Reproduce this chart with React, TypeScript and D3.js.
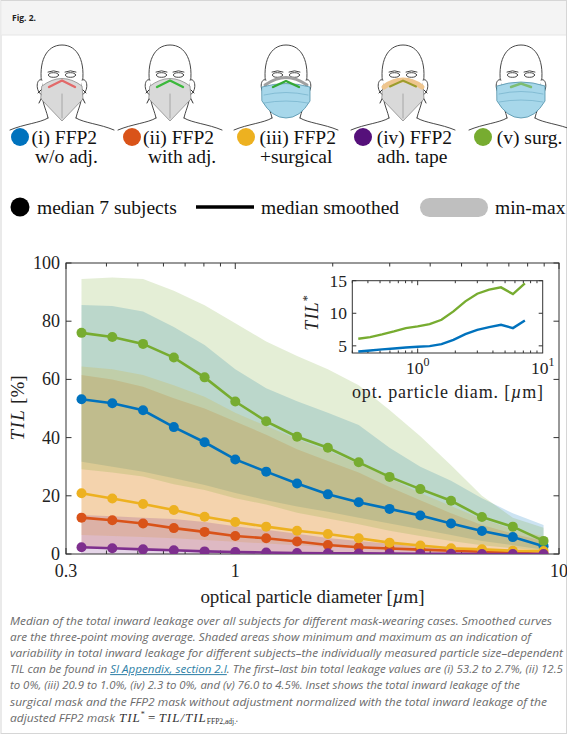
import React from 'react';
import * as d3 from 'd3';

// ---------- data ----------
const binCenters = [0.335, 0.417, 0.519, 0.646, 0.804, 1.0, 1.246, 1.552, 1.932, 2.406, 2.996, 3.73, 4.64, 5.78, 7.2, 8.96];

const medBlue = [53.2, 51.8, 49.4, 43.6, 38.4, 32.5, 28.3, 24.2, 20.5, 17.8, 15.5, 13.2, 10.5, 7.9, 5.8, 2.7];
const medOrange = [12.5, 11.6, 10.5, 8.9, 7.6, 6.2, 5.4, 4.3, 3.1, 2.3, 1.9, 1.5, 1.1, 0.8, 0.5, 0.0];
const medYellow = [20.9, 19.1, 17.2, 15.1, 12.8, 11.0, 9.4, 8.0, 6.9, 5.4, 3.9, 2.9, 2.0, 1.6, 1.1, 1.0];
const medPurple = [2.3, 2.0, 1.6, 1.3, 0.9, 0.7, 0.5, 0.35, 0.25, 0.2, 0.15, 0.1, 0.05, 0.0, 0.0, 0.0];
const medGreen = [76.0, 74.6, 72.2, 67.5, 60.7, 52.4, 45.6, 40.3, 36.5, 31.5, 26.5, 22.3, 18.3, 12.7, 9.4, 4.5];

const maxBlue = [85.6, 85.2, 83.3, 78.0, 71.8, 63.5, 57.0, 52.5, 48.5, 44.3, 36.5, 30.0, 25.2, 19.2, 14.0, 10.0];
const minBlue = [31.7, 30.0, 28.3, 26.0, 23.7, 21.0, 18.5, 16.3, 14.5, 12.5, 10.5, 8.5, 6.5, 4.5, 3.0, 1.5];
const maxOrange = [61.5, 60.0, 57.5, 53.5, 50.0, 45.5, 41.0, 36.0, 32.0, 28.0, 23.0, 18.5, 14.0, 10.0, 7.0, 4.5];
const minOrange = [2.0, 1.9, 1.7, 1.5, 1.2, 1.0, 0.8, 0.6, 0.4, 0.3, 0.2, 0.1, 0.0, 0.0, 0.0, 0.0];
const maxYellow = [64.4, 63.5, 61.5, 58.0, 54.0, 48.5, 44.0, 39.5, 35.5, 31.0, 26.0, 21.0, 16.5, 12.0, 8.5, 6.0];
const minYellow = [6.5, 6.2, 5.8, 5.4, 4.8, 4.2, 3.6, 3.0, 2.4, 1.9, 1.5, 1.1, 0.8, 0.6, 0.5, 0.4];
const maxPurple = [13.4, 13.0, 12.5, 12.0, 11.0, 9.5, 8.3, 7.0, 5.5, 4.5, 3.5, 2.5, 1.8, 1.2, 0.8, 0.6];
const minPurple = [0, 0, 0, 0, 0, 0, 0, 0, 0, 0, 0, 0, 0, 0, 0, 0];
const maxGreen = [94.5, 95.0, 94.5, 90.5, 85.5, 79.3, 73.0, 68.0, 63.5, 58.0, 49.5, 40.5, 30.5, 20.0, 12.5, 9.0];
const minGreen = [29.1, 28.0, 26.6, 24.0, 22.0, 19.2, 17.0, 14.2, 12.2, 10.2, 8.0, 6.2, 4.5, 3.0, 2.0, 1.2];

// inset: TIL* (first 15 bins)
const insetGreen = [6.08, 6.34, 6.75, 7.21, 7.72, 7.98, 8.34, 9.0, 10.29, 11.83, 13.0, 13.62, 13.98, 12.95, 14.6];
const insetBlue = [4.14, 4.29, 4.45, 4.6, 4.75, 4.85, 4.95, 5.26, 5.92, 6.8, 7.46, 7.88, 8.23, 7.72, 8.9];

const yTicks = [0, 20, 40, 60, 80, 100];
const xTickLabels = [
  { v: 0.3, t: '0.3' },
  { v: 1, t: '1' },
  { v: 10, t: '10' },
];
const xMinorTicks = [0.4, 0.5, 0.6, 0.7, 0.8, 0.9, 2, 3, 4, 5, 6, 7, 8, 9];
const insetYTicks = [5, 10, 15];

const caseLabels = [
  { l1: '(i) FFP2', l2: 'w/o adj.' },
  { l1: '(ii) FFP2', l2: 'with adj.' },
  { l1: '(iii) FFP2', l2: '+surgical' },
  { l1: '(iv) FFP2', l2: 'adh. tape' },
  { l1: '(v) surg.', l2: '' },
];

// ---------- styles ----------
const C = {
  blue: '#0072BD',
  orange: '#D95319',
  yellow: '#EDB120',
  purple: '#7E2F8E',
  green: '#77AC30',
};
const legendColors = ['#0072BD', '#D95319', '#EDB120', '#55107A', '#77AC30'];
const serif = '"Liberation Serif", "Times New Roman", serif';
const sans = '"Open Sans", "Noto Sans", sans-serif';

const series = [
  { color: C.blue, med: medBlue, lo: minBlue, hi: maxBlue },
  { color: C.orange, med: medOrange, lo: minOrange, hi: maxOrange },
  { color: C.yellow, med: medYellow, lo: minYellow, hi: maxYellow },
  { color: C.purple, med: medPurple, lo: minPurple, hi: maxPurple },
  { color: C.green, med: medGreen, lo: minGreen, hi: maxGreen },
];

// ---------- faces ----------
function Face({ cx, kind }: { cx: number; kind: number }) {
  const line = '#333';
  const head = 'M -20,86 C -24,62 -16,45 0,45 C 16,45 24,62 20,86';
  const ffp2 = 'M -20,86 Q -10,78.5 0,78.5 Q 10,78.5 20,86 L 21,99 L 0,121 L -21,99 Z';
  const surg = 'M -24,86 Q 0,78 24,86 L 24,101 Q 14,118 0,118 Q -14,118 -24,101 Z';
  return (
    <g transform={`translate(${cx},0)`} fill="none" stroke={line} strokeWidth={0.9} strokeLinecap="round">
      <path d="M -14,118 C -22,123 -38,124 -52,130" />
      <path d="M 14,118 C 22,123 38,124 52,130" />
      <path d="M -20,95 C -19,105 -15,112 -14,118" />
      <path d="M 20,95 C 19,105 15,112 14,118" />
      <path d={head} fill="#fff" />
      <path d="M -20,80 C -26,77 -27,92 -20,95" fill="#fff" />
      <path d="M 20,80 C 26,77 27,92 20,95" fill="#fff" />
      <ellipse cx={-8.5} cy={75} rx={5} ry={2.3} fill="#fff" />
      <ellipse cx={8.5} cy={75} rx={5} ry={2.3} fill="#fff" />
      <path d="M -14,72 Q -8.5,69.5 -3,72" />
      <path d="M 3,72 Q 8.5,69.5 14,72" />
      {(kind === 0 || kind === 1 || kind === 3) && (
        <g>
          <path d={ffp2} fill="#d9d9d9" stroke="#8a8a8a" strokeWidth={0.8} />
          <path d="M 0,94 L 0,118" stroke="#9a9a9a" strokeWidth={0.8} />
          <path d="M -21,90 L -24,93 M 21,90 L 24,93 M -21,99 L -23,103 M 21,99 L 23,103" stroke="#333" strokeWidth={1} />
        </g>
      )}
      {kind === 0 && <path d="M -13,87 L 0,80.5 L 13,87" stroke="#e26a6a" strokeWidth={2.4} />}
      {kind === 1 && <path d="M -13,87 L 0,80.5 L 13,87" stroke="#3cb83c" strokeWidth={2.4} />}
      {kind === 3 && (
        <g>
          <path d="M -19,87 Q -10,80 0,80 Q 10,80 19,87" stroke="#eec58e" strokeWidth={5} />
          <path d="M -13,86.5 L 0,80.5 L 13,86.5" stroke="#9c9c2c" strokeWidth={2} />
        </g>
      )}
      {kind === 2 && (
        <g>
          <path d="M -21,85 Q -10,77.5 0,77.5 Q 10,77.5 21,85" stroke="#a0a0a0" strokeWidth={3} />
          <path d="M -24,87 Q 0,80 24,87 L 24,101 Q 14,118 0,118 Q -14,118 -24,101 Z" fill="#a7d7ea" stroke="#4f8fa8" strokeWidth={0.8} />
          <path d="M -22,95 Q 0,90 22,95" stroke="#6aaac4" strokeWidth={0.6} />
          <path d="M -22,103 Q 0,99 22,103" stroke="#6aaac4" strokeWidth={0.6} />
          <path d="M -13,87 L 0,81 L 13,87" stroke="#34a834" strokeWidth={2.4} />
        </g>
      )}
      {kind === 4 && (
        <g>
          <path d={surg} fill="#a7d7ea" stroke="#4f8fa8" strokeWidth={0.8} />
          <path d="M -22,94 Q 0,89 22,94" stroke="#6aaac4" strokeWidth={0.6} />
          <path d="M -22,102 Q 0,98 22,102" stroke="#6aaac4" strokeWidth={0.6} />
          <path d="M -10,87 L 0,83.5 L 10,87" stroke="#7dbd72" strokeWidth={2.4} />
        </g>
      )}
    </g>
  );
}

export default function App() {
  const L = 66, R = 559, T = 263, B = 554;
  const x = d3.scaleLog().domain([0.3, 10]).range([L, R]);
  const y = d3.scaleLinear().domain([0, 100]).range([B, T]);

  const iL = 352.3, iR = 542.7, iT = 280.7, iB = 353;
  const ix = d3.scaleLog().domain([0.3, 10]).range([iL, iR]);
  const iy = d3.scaleLinear().domain([3.9, 15]).range([iB, iT]);

  const area = d3
    .area<[number, number]>()
    .x((_d, i) => x(binCenters[i]))
    .y0((d) => y(d[0]))
    .y1((d) => y(d[1]));
  const line = d3
    .line<number>()
    .x((_d, i) => x(binCenters[i]))
    .y((d) => y(d));
  const iline = d3
    .line<number>()
    .x((_d, i) => ix(binCenters[i]))
    .y((d) => iy(d));

  const faceCx = [62, 170, 286, 403, 521];
  const circX = [20, 132, 246, 363, 483];
  const t1X = [31.5, 143, 259.5, 376.7, 496.7];
  const t2X = [35, 148, 260, 377, 0];

  const capLines = [
    'Median of the total inward leakage over all subjects for different mask-wearing cases. Smoothed curves',
    'are the three-point moving average. Shaded areas show minimum and maximum as an indication of',
    'variability in total inward leakage for different subjects–the individually measured particle size–dependent',
    '',
    'to 0%, (iii) 20.9 to 1.0%, (iv) 2.3 to 0%, and (v) 76.0 to 4.5%. Inset shows the total inward leakage of the',
    'surgical mask and the FFP2 mask without adjustment normalized with the total inward leakage of the',
  ];
  const capWidths = [542, 521, 553, 553, 510, 537];
  const capY0 = 624.5;
  const capStep = 16.2;
  const mathFont = { fontFamily: serif, fill: '#333' };

  return (
    <svg
      width={567}
      height={739}
      viewBox="0 0 567 739"
      style={{ position: 'absolute', left: 0, top: 0, background: '#fff' }}
    >
      <defs>
        <clipPath id="plotClip">
          <rect x={L} y={T} width={R - L} height={B - T} />
        </clipPath>
      </defs>
      {/* card */}
      <rect x={1} y={0.5} width={565.5} height={733} fill="#fff" stroke="#d6d6d6" strokeWidth={1} />
      <rect x={1.5} y={1} width={564.5} height={34} fill="#f4f4f4" />
      <line x1={1.5} x2={566} y1={35} y2={35} stroke="#e6e6e6" />
      <text x={12} y={21} fontFamily={sans} fontWeight={700} fontSize={8.5} fill="#222">
        Fig. 2.
      </text>

      {/* faces */}
      {faceCx.map((cx, i) => (
        <Face key={i} cx={cx} kind={i} />
      ))}

      {/* case legend */}
      {caseLabels.map((c, i) => (
        <g key={i} fontFamily={serif} fontSize={19.5} fill="#111">
          <circle cx={circX[i]} cy={137} r={9} fill={legendColors[i]} />
          <text x={t1X[i]} y={143.5}>{c.l1}</text>
          {c.l2 && <text x={t2X[i]} y={162.5}>{c.l2}</text>}
        </g>
      ))}

      {/* style legend */}
      <g fontFamily={serif} fontSize={19.5} fill="#111">
        <circle cx={20} cy={207} r={9.5} fill="#000" />
        <text x={37} y={213.5}>median 7 subjects</text>
        <line x1={196} x2={254} y1={207} y2={207} stroke="#000" strokeWidth={3.5} />
        <text x={261} y={213.5}>median smoothed</text>
        <rect x={420} y={198} width={68} height={19} rx={9.5} fill="#bfbfbf" />
        <text x={495} y={213.5}>min-max</text>
      </g>

      {/* bands */}
      <g clipPath="url(#plotClip)">
        {series.map((s, k) => (
          <path
            key={k}
            d={area(s.lo.map((v, i) => [v, s.hi[i]] as [number, number])) || ''}
            fill={s.color}
            fillOpacity={0.2}
            stroke="none"
          />
        ))}
      </g>

      {/* axes frame and ticks */}
      <rect x={L} y={T} width={R - L} height={B - T} fill="none" stroke="#333" strokeWidth={1} />
      {yTicks.map((v) => (
        <g key={v}>
          <line x1={L} x2={L + 5.5} y1={y(v)} y2={y(v)} stroke="#333" />
          <line x1={R} x2={R - 5.5} y1={y(v)} y2={y(v)} stroke="#333" />
          <text x={60} y={y(v) + 6} textAnchor="end" fontFamily={serif} fontSize={18} fill="#222">
            {v}
          </text>
        </g>
      ))}
      {xMinorTicks.map((v) => (
        <g key={v}>
          <line x1={x(v)} x2={x(v)} y1={B} y2={B - 3.5} stroke="#333" />
          <line x1={x(v)} x2={x(v)} y1={T} y2={T + 3.5} stroke="#333" />
        </g>
      ))}
      {xTickLabels.map((d) => (
        <g key={d.t}>
          <line x1={x(d.v)} x2={x(d.v)} y1={B} y2={B - 6} stroke="#333" />
          <line x1={x(d.v)} x2={x(d.v)} y1={T} y2={T + 6} stroke="#333" />
          <text x={x(d.v)} y={577} textAnchor="middle" fontFamily={serif} fontSize={18} fill="#222">
            {d.t}
          </text>
        </g>
      ))}
      <text x={(L + R) / 2} y={603} textAnchor="middle" fontFamily={serif} fontSize={19} fill="#222" textLength={224}>
        optical particle diameter [<tspan fontStyle="italic">µ</tspan>m]
      </text>
      <text
        transform="translate(24,408) rotate(-90)"
        textAnchor="middle"
        fontFamily={serif}
        fontSize={19}
        fill="#222"
      >
        <tspan fontStyle="italic" letterSpacing={1.5}>TIL</tspan> [%]
      </text>

      {/* medians */}
      <g clipPath="url(#plotClip)">
        {series.map((s, k) => (
          <g key={k}>
            <path d={line(s.med) || ''} fill="none" stroke={s.color} strokeWidth={2.6} />
            {s.med.map((v, i) => (
              <circle key={i} cx={x(binCenters[i])} cy={y(v)} r={5} fill={s.color} />
            ))}
          </g>
        ))}
      </g>

      {/* inset */}
      <rect x={iL} y={iT} width={iR - iL} height={iB - iT} fill="#fff" stroke="#333" strokeWidth={1} />
      {insetYTicks.map((v) => (
        <g key={v}>
          <line x1={iL} x2={iL + 4} y1={iy(v)} y2={iy(v)} stroke="#333" />
          <line x1={iR} x2={iR - 4} y1={iy(v)} y2={iy(v)} stroke="#333" />
          <text x={347} y={iy(v) + 6} textAnchor="end" fontFamily={serif} fontSize={17.5} fill="#222">
            {v}
          </text>
        </g>
      ))}
      {xMinorTicks.concat([0.3]).map((v) => (
        <g key={v}>
          <line x1={ix(v)} x2={ix(v)} y1={iB} y2={iB - 2.5} stroke="#333" />
          <line x1={ix(v)} x2={ix(v)} y1={iT} y2={iT + 2.5} stroke="#333" />
        </g>
      ))}
      <line x1={ix(1)} x2={ix(1)} y1={iB} y2={iB - 4.5} stroke="#333" />
      <line x1={ix(1)} x2={ix(1)} y1={iT} y2={iT + 4.5} stroke="#333" />
      {[1, 10].map((v, k) => (
        <text key={v} x={ix(v)} y={374} textAnchor="middle" fontFamily={serif} fontSize={17.5} fill="#222">
          10<tspan fontSize={12} dy={-8}>{k}</tspan>
        </text>
      ))}
      <text x={447.5} y={398} textAnchor="middle" fontFamily={serif} fontSize={18} fill="#222" textLength={191}>
        opt. particle diam. [<tspan fontStyle="italic">µ</tspan>m]
      </text>
      <text
        transform="translate(318,313) rotate(-90)"
        textAnchor="middle"
        fontFamily={serif}
        fontSize={18}
        fill="#222"
      >
        <tspan fontStyle="italic" letterSpacing={1.2}>TIL</tspan>
        <tspan fontSize={12} dy={-7}>*</tspan>
      </text>
      <path d={iline(insetGreen) || ''} fill="none" stroke={C.green} strokeWidth={2.4} />
      <path d={iline(insetBlue) || ''} fill="none" stroke={C.blue} strokeWidth={2.4} />

      {/* caption */}
      <g fontFamily={sans} fontStyle="italic" fontSize={10.2} fill="#6b6b6b">
        {capLines.map((t, i) =>
          i === 3 ? (
            <text key={i} x={10} y={capY0 + i * capStep} textLength={capWidths[i]} lengthAdjust="spacingAndGlyphs">
              TIL can be found in{' '}
              <tspan fill="#2f7fa6" textDecoration="underline">SI Appendix, section 2.I</tspan>. The first–last bin
              total leakage values are (i) 53.2 to 2.7%, (ii) 12.5
            </text>
          ) : (
            <text key={i} x={10} y={capY0 + i * capStep} textLength={capWidths[i]} lengthAdjust="spacingAndGlyphs">
              {t}
            </text>
          )
        )}
        <text x={10} y={capY0 + 6 * capStep} textLength={105} lengthAdjust="spacingAndGlyphs">
          adjusted FFP2 mask
        </text>
        <text x={119} y={capY0 + 6 * capStep} fontStyle="italic">
          <tspan {...mathFont} fontSize={13} letterSpacing={1}>TIL</tspan>
          <tspan {...mathFont} fontStyle="normal" fontSize={8} dy={-5}>*</tspan>
          <tspan {...mathFont} fontStyle="normal" fontSize={13} dy={5}> = </tspan>
          <tspan {...mathFont} fontSize={13} letterSpacing={1}>TIL/TIL</tspan>
          <tspan {...mathFont} fontStyle="normal" fontSize={7.5} dy={2.5}>FFP2,adj.</tspan>
          <tspan dy={-2.5}>.</tspan>
        </text>
      </g>
    </svg>
  );
}
